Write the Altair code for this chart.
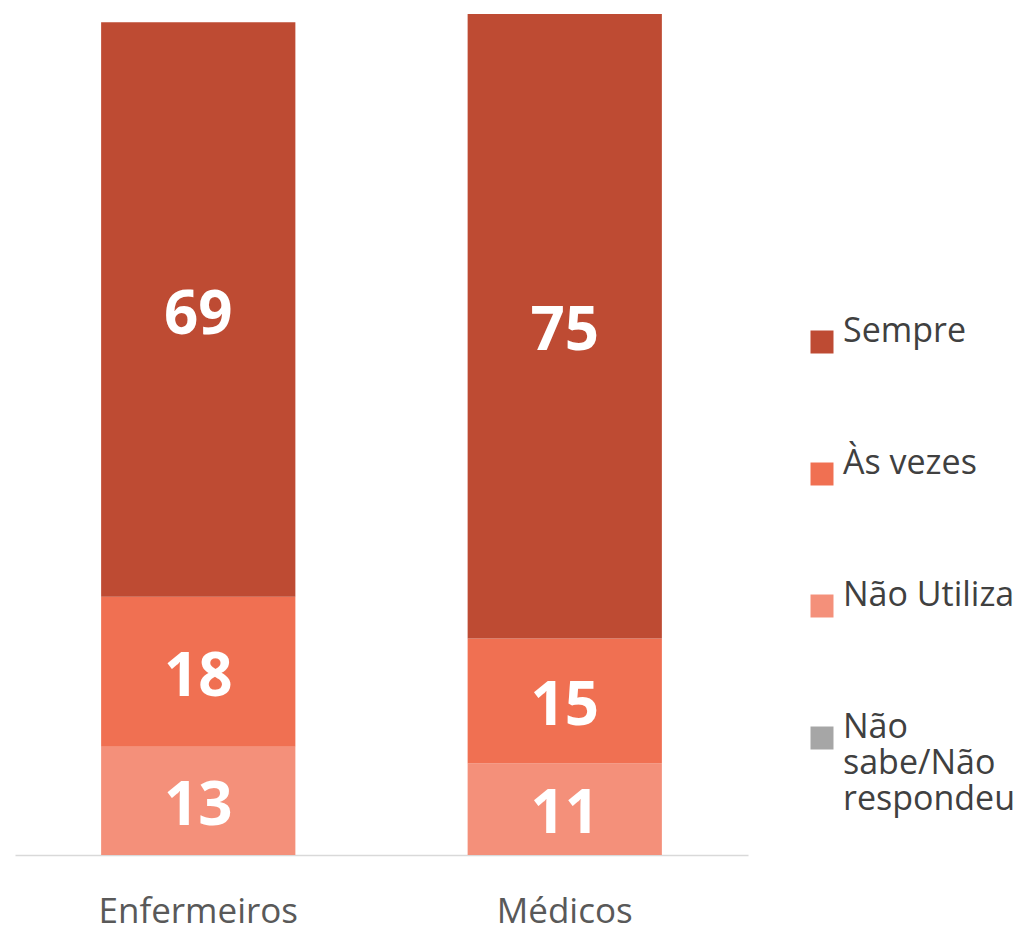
import altair as alt
import pandas as pd

groups = ["Enfermeiros", "Médicos"]
categories = ["Sempre", "Às vezes", "Não Utiliza", "Não sabe/Não respondeu"]
colors = ["#BE4B33", "#F07052", "#F4907A", "#A6A6A6"]
stack_order = {"Não Utiliza": 0, "Às vezes": 1, "Sempre": 2, "Não sabe/Não respondeu": 3}

sempre = [69, 75]
as_vezes = [18, 15]
nao_utiliza = [13, 11]

rows = []
for i, g in enumerate(groups):
    for cat, vals in [("Não Utiliza", nao_utiliza), ("Às vezes", as_vezes), ("Sempre", sempre)]:
        rows.append({"grupo": g, "resposta": cat, "valor": vals[i], "ord": stack_order[cat]})
df = pd.DataFrame(rows)

base = alt.Chart(df)

bars = base.mark_bar().encode(
    x=alt.X("grupo:N", sort=groups, title=None,
            scale=alt.Scale(paddingInner=0.47, paddingOuter=0.235),
            axis=alt.Axis(labelAngle=0, labelFontSize=35, labelColor="#595959",
                          labelFont="Open Sans", labelPadding=39, ticks=False,
                          labelLimit=400,
                          domainColor="#D9D9D9", domainWidth=1.5)),
    y=alt.Y("valor:Q", stack="zero", title=None,
            scale=alt.Scale(domain=[0, 101], nice=False), axis=None),
    color=alt.Color("resposta:N", sort=categories,
                    scale=alt.Scale(domain=categories, range=colors),
                    legend=alt.Legend(
                        title=None, orient="none", legendX=790, legendY=311,
                        symbolType="square", symbolSize=529, symbolStrokeWidth=0,
                        labelFontSize=34, labelFont="Open Sans", labelColor="#404040",
                        labelOffset=4, rowPadding=93, padding=0,
                        labelBaseline="alphabetic", labelLimit=400,
                        labelExpr="datum.label == 'Não sabe/Não respondeu' ? ['Não', 'sabe/Não', 'respondeu'] : datum.label")),
    order=alt.Order("ord:Q"),
)

labels = base.transform_window(
    cum="sum(valor)", groupby=["grupo"], sort=[alt.SortField("ord")], frame=[None, 0]
).transform_calculate(
    mid="datum.cum - datum.valor / 2"
).mark_text(font="Open Sans", fontWeight="bold", fontSize=60, color="white",
            baseline="middle", dy=6).encode(
    x=alt.X("grupo:N", sort=groups),
    y=alt.Y("mid:Q"),
    text=alt.Text("valor:Q"),
)

chart = alt.layer(bars, labels).properties(
    width=733, height=841,
    autosize=alt.AutoSizeParams(type="none"),
    padding={"left": 7, "top": 6, "right": 274, "bottom": 68},
).configure_view(stroke=None).configure_axis(grid=False)

chart.save("out.html", embed_options={"renderer": "svg", "actions": False})
